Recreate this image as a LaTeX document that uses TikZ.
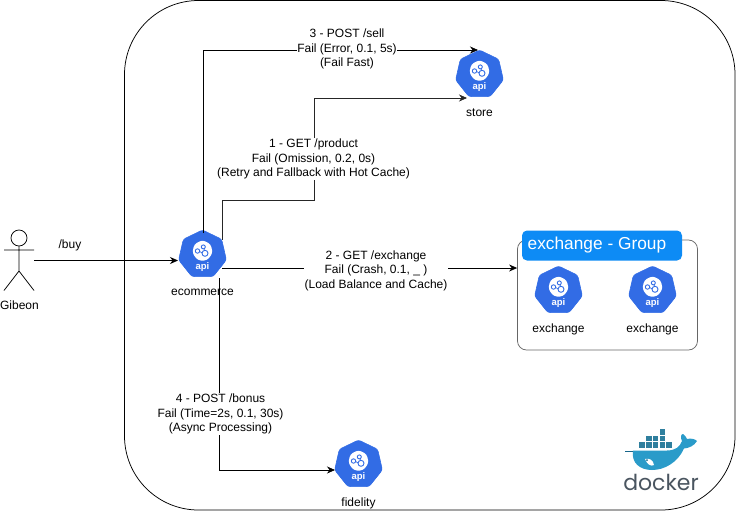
\documentclass[tikz,border=0pt]{standalone}
\usepackage{fontspec}
\setmainfont{Liberation Sans}
\newfontfamily\dockerfont{Poppins}
\usetikzlibrary{shapes.geometric,arrows.meta}
\definecolor{k8s}{HTML}{326CE5}
\definecolor{grp}{HTML}{0D8BF5}
\definecolor{dkblue}{HTML}{2A9BC9}
\definecolor{dkbox}{HTML}{2F7F9E}
\definecolor{dkdark}{HTML}{17658A}
\definecolor{dktext}{HTML}{4A5560}
\tikzset{
  apinode/.style={regular polygon,regular polygon sides=7,minimum size=49pt,inner sep=0pt,fill=k8s,draw=k8s,line width=.6pt,rounded corners=2.5pt},
  caption/.style={font=\fontsize{12}{14}\selectfont,inner sep=0pt,anchor=center},
  lbl/.style={font=\fontsize{12}{14.5}\selectfont,align=center,fill=white,inner sep=.5pt},
  plainlbl/.style={font=\fontsize{12}{14.5}\selectfont,align=center,inner sep=0pt},
  wire/.style={draw=black,line width=.75pt,-{Stealth[length=8pt,width=7pt]}},
  api/.pic={
    \node[apinode] (-hex) at (0,0) {};
    \fill[white,rounded corners=3pt] (0,-14.5) -- (8.2,-10.4) -- (10.2,-1.4) -- (4.5,6) -- (-4.5,6) -- (-10.2,-1.4) -- (-8.2,-10.4) -- cycle;
    \draw[k8s,line width=.9pt] (2.5,-1.2) circle (3pt);
    \draw[k8s,line width=.9pt] (-5,-3.5) circle (2.2pt);
    \draw[k8s,line width=.9pt] (.8,-7.6) circle (2pt);
    \draw[k8s,line width=.7pt] (-2.8,-3) -- (-.5,-1.6) (1.5,-5.6) -- (2,-4.2);
    \node[font=\bfseries\fontsize{9.5}{10}\selectfont,text=white,inner sep=0pt] (-t) at (0,12.5) {api};
  }
}
\begin{document}
\begin{tikzpicture}[x=1pt,y=-1pt]
\useasboundingbox (0,0) rectangle (736,512);
\draw[black,line width=.75pt,rounded corners=74pt] (124.5,0.5) rectangle (735,510);
% group
\node[draw=black!60,line width=.75pt,rounded corners=9pt,minimum width=180pt,minimum height=110pt,inner sep=0pt] (group) at (607.5,295) {};
\node[fill=grp,rounded corners=5pt,minimum width=160pt,minimum height=30pt,inner sep=0pt] (grouptitle) at (602,245.5) {};
\node[font=\fontsize{17.3}{20}\selectfont,text=white,inner sep=0pt,anchor=west] (grouptext) at (527.5,245) {exchange - Group};
% apis
\pic (eco) at (202.5,254.5) {api};
\pic (sto) at (479.5,74.5) {api};
\pic (exa) at (558.5,290.5) {api};
\pic (exb) at (652.5,290.5) {api};
\pic (fid) at (358.5,464.5) {api};
\node[caption] (ecolabel) at (202.5,292.5) {ecommerce};
\node[caption] (stolabel) at (479.5,113) {store};
\node[caption] (exalabel) at (558.5,329) {exchange};
\node[caption] (exblabel) at (652.5,329) {exchange};
\node[caption] (fidlabel) at (358.5,503) {fidelity};
% actor
\coordinate (actorfree) at (34,260.5);
\draw[black,line width=.75pt] (19,238) circle (8pt);
\draw[black,line width=.75pt] (19,246) -- (19,271) (4,250) -- (34,250) (19,271) -- (4,290.5) (19,271) -- (34,290.5);
\node[caption] (gibeon) at (19.5,305) {Gibeon};
% wires
\coordinate (c1) at (222.5,240);
\coordinate (c3) at (203,233);
\coordinate (c2) at (222,268);
\coordinate (c4) at (219,278);
\coordinate (ecoin) at (178,260.5);
\draw[wire] (actorfree) -- (ecoin);
\draw[wire] (c3) -- (203,50) -- (478,50);
\draw[wire,draw=black!85] (c1) -- (222.5,200) -- (314.5,200) -- (314.5,98) -- (467,98);
\draw[wire] (c2) -- (group.west |- c2);
\draw[wire] (c4) -- (219,470) -- (335,470);
\node[plainlbl] (buylabel) at (70,245.5) {/buy};
\node[lbl] (l3) at (347,49) {3 - POST /sell\\Fail (Error, 0.1, 5s)\\(Fail Fast)};
\node[lbl] (l1) at (313.5,159) {1 - GET /product\\Fail (Omission, 0.2, 0s)\\(Retry and Fallback with Hot Cache)};
\node[lbl] (l2) at (376,270.5) {2 - GET /exchange\\Fail (Crash, 0.1, \_ )\\(Load Balance and Cache)};
\node[lbl] (l4) at (220.5,414) {4 - POST /bonus\\Fail (Time=2s, 0.1, 30s)\\(Async Processing)};
% docker whale
\foreach \xa/\ya in {638.5/441.5,645.2/441.5,652/441.5,658.8/441.5,665.5/441.5,645.2/435,652/435,658.8/435,658.8/428.5}
  \filldraw[fill=dkbox,draw=white,line width=.3pt] (\xa,\ya) rectangle ++(6.6,6.5);
\fill[dkblue] (633,450.5) -- (667,450.5) .. controls (675,450.5) and (680,447) .. (682,441)
  .. controls (680,437) and (681,434) .. (683,434) .. controls (685,435) and (686,437) .. (687,439)
  .. controls (691,438) and (695,439) .. (697,441) .. controls (694,446) and (689,448) .. (684,448.5)
  .. controls (678,462) and (665,470) .. (652,470) .. controls (640,470) and (631,463) .. (633,450.5) -- cycle;
\fill[white] (645,459) .. controls (650,458) and (653,460) .. (654,465) .. controls (651,467) and (647,464) .. (645,459) -- cycle;
\fill[dkdark] (647,460) circle (1pt);
\draw[dkdark,line width=.5pt] (625,451) -- (633,451);
\node[font=\dockerfont\fontsize{22}{24}\selectfont,text=dktext,inner sep=0pt] (dockertext) at (661,482) {docker};
\end{tikzpicture}
\end{document}
